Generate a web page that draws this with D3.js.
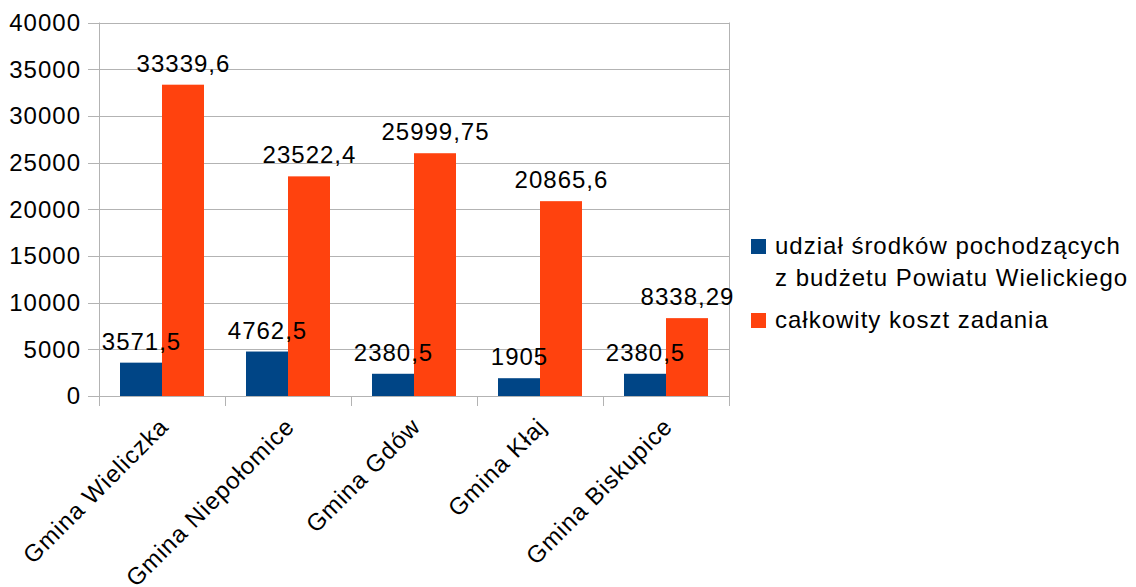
<!DOCTYPE html>
<html>
<head>
<meta charset="utf-8">
<script src="https://cdn.jsdelivr.net/npm/d3@7"></script>
<style>
  html, body { margin: 0; padding: 0; background: #fff; }
  svg { display: block; font-family: "Liberation Sans", Arial, sans-serif; }
  svg text { letter-spacing: 1px; }
</style>
</head>
<body>
<svg id="chart" width="1136" height="587"></svg>
<script>
// Budget share vs. total cost per municipality
const categories = ["Gmina Wieliczka", "Gmina Niepołomice", "Gmina Gdów", "Gmina Kłaj", "Gmina Biskupice"];
const shareValues = [3571.5, 4762.5, 2380.5, 1905, 2380.5];
const totalValues = [33339.6, 23522.4, 25999.75, 20865.6, 8338.29];
const seriesNames = ["udział środków pochodzących\nz budżetu Powiatu Wielickiego", "całkowity koszt zadania"];
const seriesColors = ["#004586", "#ff420e"];
const yTicks = [0, 5000, 10000, 15000, 20000, 25000, 30000, 35000, 40000];

const svg = d3.select("#chart");
const plotLeft = 99, plotRight = 729, plotTop = 22.5, plotBottom = 396;

const x = d3.scaleBand().domain(categories).range([plotLeft, plotRight]).paddingInner(0).paddingOuter(0);
const xs = d3.scaleBand().domain([0, 1]).range([0, x.bandwidth()]).paddingInner(0).paddingOuter(0.5);
const y = d3.scaleLinear().domain([0, 40000]).range([plotBottom, plotTop]);

const fmt = v => String(v).replace(".", ",");

// horizontal grid lines with short outer ticks
svg.append("g").selectAll("line").data(yTicks).join("line")
  .attr("x1", plotLeft - 11).attr("x2", plotRight)
  .attr("y1", d => Math.round(y(d)) + 0.5).attr("y2", d => Math.round(y(d)) + 0.5)
  .attr("stroke", "#b3b3b3").attr("stroke-width", 1);

// y axis labels
svg.append("g").selectAll("text").data(yTicks).join("text")
  .attr("x", 81).attr("y", d => y(d))
  .attr("dy", "0.35em")
  .attr("text-anchor", "end")
  .attr("font-size", 24).attr("fill", "#000")
  .text(d => d);

// vertical walls and category ticks
const bounds = categories.map(c => x(c)).concat([plotRight]);
svg.append("g").selectAll("line").data(bounds).join("line")
  .attr("x1", d => Math.round(d) + 0.5).attr("x2", d => Math.round(d) + 0.5)
  .attr("y1", (d, i) => (i === 0 || i === bounds.length - 1) ? plotTop : plotBottom)
  .attr("y2", plotBottom + 10)
  .attr("stroke", "#b3b3b3").attr("stroke-width", 1);

// bars
const rows = categories.map((c, i) => ({ c, vals: [shareValues[i], totalValues[i]] }));
const groups = svg.append("g").selectAll("g").data(rows).join("g")
  .attr("transform", d => `translate(${x(d.c)},0)`);

groups.selectAll("rect").data(d => d.vals.map((v, k) => ({ v, k }))).join("rect")
  .attr("x", d => xs(d.k))
  .attr("width", xs.bandwidth())
  .attr("y", d => y(d.v))
  .attr("height", d => y(0) - y(d.v))
  .attr("fill", d => seriesColors[d.k]);

// value labels
groups.selectAll("text").data(d => d.vals.map((v, k) => ({ v, k }))).join("text")
  .attr("x", d => xs(d.k) + xs.bandwidth() / 2 + 0.5)
  .attr("y", d => y(d.v) - 13)
  .attr("text-anchor", "middle")
  .attr("font-size", 24).attr("fill", "#000")
  .text(d => fmt(d.v));

// category labels, rotated
svg.append("g").selectAll("text").data(categories).join("text")
  .attr("transform", c => `translate(${x(c) + x.bandwidth() / 2 + 8},${plotBottom + 32}) rotate(-45)`)
  .attr("text-anchor", "end")
  .attr("font-size", 24).attr("fill", "#000")
  .text(c => c);

// legend
const legend = svg.append("g");
const legendY = [246, 320];
seriesNames.forEach((name, k) => {
  legend.append("rect")
    .attr("x", 751).attr("y", legendY[k] - 7)
    .attr("width", 15).attr("height", 15)
    .attr("fill", seriesColors[k]);
  const t = legend.append("text")
    .attr("x", 775).attr("y", legendY[k])
    .attr("font-size", 24).attr("fill", "#000");
  name.split("\n").forEach((line, j) => {
    t.append("tspan").attr("x", 775).attr("y", legendY[k] + j * 32).attr("dy", "0.35em").text(line);
  });
});
</script>
</body>
</html>
